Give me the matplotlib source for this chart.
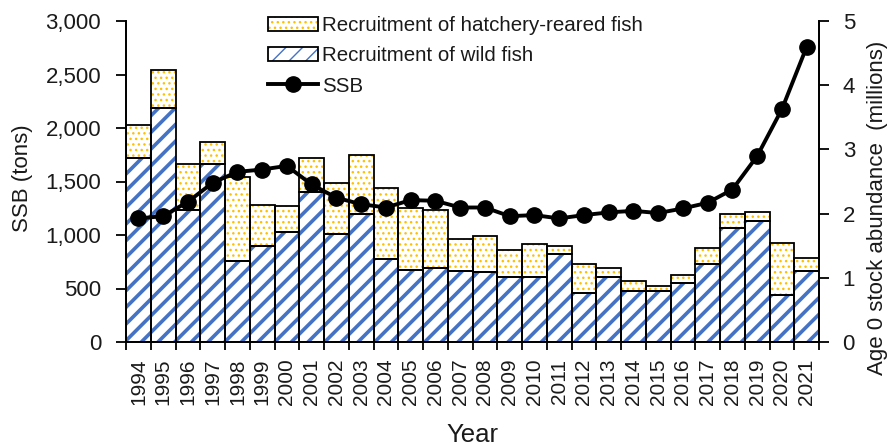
import matplotlib
matplotlib.use("Agg")
import matplotlib.pyplot as plt
from matplotlib.patches import Patch
from matplotlib.lines import Line2D
from matplotlib.legend_handler import HandlerTuple
import numpy as np

years = list(range(1994, 2022))

# age 0 recruitment (millions)
wild = [2.86, 3.65, 2.05, 2.78, 1.26, 1.50, 1.715, 2.34, 1.68, 2.00,
        1.30, 1.12, 1.155, 1.11, 1.095, 1.015, 1.015, 1.37, 0.77, 1.015,
        0.79, 0.79, 0.92, 1.21, 1.78, 1.89, 0.73, 1.10]
hatchery = [0.52, 0.59, 0.73, 0.33, 1.31, 0.635, 0.40, 0.52, 0.80, 0.92,
            1.10, 0.975, 0.895, 0.49, 0.555, 0.425, 0.505, 0.13, 0.45, 0.14,
            0.16, 0.085, 0.13, 0.26, 0.21, 0.14, 0.805, 0.21]

# spawning stock biomass (tons)
ssb = [1155, 1176, 1310, 1488, 1590, 1612, 1646, 1472, 1348, 1288,
       1257, 1326, 1320, 1257, 1257, 1176, 1186, 1155, 1186, 1211,
       1226, 1205, 1248, 1301, 1425, 1737, 2175, 2757]

plt.rcParams['font.family'] = ['Liberation Sans', 'DejaVu Sans']
txt = '#1a1a1a'
blue = '#4472C4'
gold = '#FFC000'

fig = plt.figure(figsize=(8.88, 4.47), dpi=100)
ax = fig.add_axes([126/888, 1-342/447, (819-126)/888, (342-21)/447])
ax2 = ax.twinx()

x = np.arange(len(years))
wild = np.array(wild)
hatchery = np.array(hatchery)

# bars on the right axis (fill + coloured hatch, then black outlines)
with plt.rc_context({'hatch.linewidth': 2.6}):
    ax2.bar(x, wild, width=1.0, facecolor='white', edgecolor=blue, hatch='//', linewidth=0)
    h_wild_fill = Patch(facecolor='white', edgecolor=blue, hatch='//', linewidth=0)
with plt.rc_context({'hatch.linewidth': 1.0}):
    ax2.bar(x, hatchery, width=1.0, bottom=wild, facecolor='white', edgecolor=gold, hatch='...', linewidth=0)
    h_hatch_fill = Patch(facecolor='white', edgecolor=gold, hatch='...', linewidth=0)
ax2.bar(x, wild, width=1.0, fill=False, edgecolor='black', linewidth=1.3)
ax2.bar(x, hatchery, width=1.0, bottom=wild, fill=False, edgecolor='black', linewidth=1.3)

# SSB line on the left axis, drawn above the bars
ax.set_zorder(ax2.get_zorder() + 1)
ax.patch.set_visible(False)
ax.plot(x, ssb, color='black', linewidth=2.8, marker='o', markersize=11, clip_on=False)

ax.set_xlim(-0.5, len(years) - 0.5)
ax.set_ylim(0, 3000)
ax2.set_ylim(0, 5)
ax.set_yticks(np.arange(0, 3001, 500))
ax.set_yticklabels([f"{v:,}" for v in range(0, 3001, 500)])
ax2.set_yticks(range(0, 6))

ax.set_xticks(x)
ax.set_xticklabels([str(y) for y in years], rotation=90)
ax.set_xticks(np.arange(-0.5, len(years)), minor=True)
ax.tick_params(axis='x', which='major', length=0, pad=12, labelsize=15, labelcolor=txt)
ax.tick_params(axis='x', which='minor', length=6, width=1.3, direction='out')
ax.tick_params(axis='y', length=7, width=1.3, direction='out', pad=11, labelsize=16, labelcolor=txt)
ax2.tick_params(axis='y', length=7, width=1.3, direction='out', pad=10, labelsize=16, labelcolor=txt)

for a in (ax, ax2):
    a.spines['top'].set_visible(False)
    for s in ('left', 'right', 'bottom'):
        a.spines[s].set_linewidth(1.3)

fig.text(28/888, 1-178/447, 'SSB (tons)', rotation=90, rotation_mode='anchor',
         ha='center', va='baseline', fontsize=16, color=txt)
fig.text(883/888, 1-208/447, 'Age 0 stock abundance  (millions)', rotation=90,
         rotation_mode='anchor', ha='center', va='baseline', fontsize=16, color=txt)
fig.text(472/888, 1-442/447, 'Year', ha='center', va='baseline', fontsize=18.5, color=txt)

outline = dict(fill=False, edgecolor='black', linewidth=1.3)
h_hatch = (h_hatch_fill, Patch(**outline))
h_wild = (h_wild_fill, Patch(**outline))
h_ssb = Line2D([], [], color='black', linewidth=2.8, marker='o', markersize=11)
fig.legend([h_hatch, h_wild, h_ssb],
           ['Recruitment of hatchery-reared fish', 'Recruitment of wild fish', 'SSB'],
           handler_map={tuple: HandlerTuple(ndivide=1, pad=0)},
           loc='upper left', bbox_to_anchor=(268/888, 1-16/447), frameon=False,
           fontsize=14.8, handlelength=2.45, handletextpad=0.2, labelspacing=0.55,
           borderpad=0, borderaxespad=0, labelcolor=txt)

fig.savefig('out.png', dpi=100)
